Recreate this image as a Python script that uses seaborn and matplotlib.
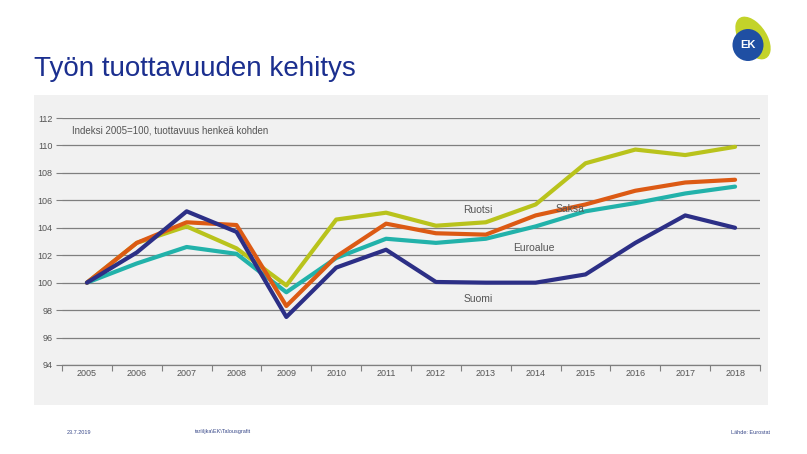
import matplotlib
matplotlib.use("Agg")
import matplotlib.pyplot as plt
import matplotlib.patches as mpatches
import pandas as pd
import seaborn as sns

# Data
years = list(range(2005, 2019))
suomi = [100, 102.2, 105.2, 103.7, 97.5, 101.1, 102.4, 100.05, 100.0, 100.0, 100.6, 102.9, 104.9, 104.0]
ruotsi = [100, 102.9, 104.1, 102.5, 99.8, 104.6, 105.1, 104.15, 104.4, 105.7, 108.7, 109.7, 109.3, 109.9]
saksa = [100, 102.9, 104.4, 104.2, 98.3, 101.9, 104.3, 103.6, 103.5, 104.9, 105.7, 106.7, 107.3, 107.5]
euroalue = [100, 101.4, 102.6, 102.1, 99.3, 101.8, 103.2, 102.9, 103.2, 104.1, 105.2, 105.8, 106.5, 107.0]

series = {"Ruotsi": ruotsi, "Euroalue": euroalue, "Saksa": saksa, "Suomi": suomi}
colors = {"Ruotsi": "#b9c31c", "Euroalue": "#22b2aa", "Saksa": "#dc5a14", "Suomi": "#2c2f86"}

df = pd.DataFrame([(y, name, v) for name, vals in series.items() for y, v in zip(years, vals)],
                  columns=["Vuosi", "Maa", "Indeksi"])

sns.set_style("white")
plt.rcParams["font.family"] = ["Liberation Sans", "DejaVu Sans"]

fig = plt.figure(figsize=(8.07, 4.54), dpi=100)
fig.patch.set_facecolor("white")

# gray panel behind chart
bg = fig.add_axes([34 / 807, 1 - 405 / 454, (768 - 34) / 807, (405 - 95) / 454], zorder=-5)
bg.set_facecolor("#f1f1f1")
bg.set_xticks([])
bg.set_yticks([])
for s in bg.spines.values():
    s.set_visible(False)

ax = fig.add_axes([62 / 807, 1 - 365 / 454, (760 - 62) / 807, (365 - 118) / 454], zorder=1)
ax.set_facecolor("none")

sns.lineplot(data=df, x="Vuosi", y="Indeksi", hue="Maa", palette=colors, linewidth=3.0,
             legend=False, ax=ax)

ax.set_xlim(2004.5, 2018.5)
ax.set_ylim(94, 112)
ax.set_yticks(range(94, 113, 2))
ax.set_xticks(years)
ax.set_xticks([y + 0.5 for y in range(2004, 2019)], minor=True)
ax.tick_params(axis="x", which="major", bottom=True, length=0, labelsize=6.5, labelcolor="#555555", pad=3)
ax.tick_params(axis="x", which="minor", bottom=True, length=4, width=0.8, color="#808080", direction="out")
ax.tick_params(axis="y", left=True, length=4, width=0.8, color="#808080", labelsize=6.5,
               labelcolor="#555555", pad=3)
ax.grid(axis="y", color="#7f7f7f", linewidth=0.9)
ax.set_axisbelow(True)
for s in ["top", "right", "left"]:
    ax.spines[s].set_visible(False)
ax.spines["bottom"].set_color("#7f7f7f")
ax.spines["bottom"].set_linewidth(0.9)
ax.set_xlabel("")
ax.set_ylabel("")

# annotations
ax.text(2005 - 0.3, 111.1, "Indeksi 2005=100, tuottavuus henkeä kohden", fontsize=7, color="#555555",
        va="center", ha="left")
ax.text(2012.55, 105.3, "Ruotsi", fontsize=7.5, color="#555555", ha="left", va="center")
ax.text(2014.4, 105.4, "Saksa", fontsize=7.5, color="#555555", ha="left", va="center")
ax.text(2013.55, 102.5, "Euroalue", fontsize=7.5, color="#555555", ha="left", va="center")
ax.text(2012.55, 98.8, "Suomi", fontsize=7.5, color="#555555", ha="left", va="center")

# title
fig.text(34 / 807, 1 - 69 / 454, "Työn tuottavuuden kehitys", fontsize=20, color="#1b2f8f",
         va="center", ha="left")

# logo
fig.patches.append(mpatches.Ellipse((753 / 807, 1 - 38 / 454), 30 / 807, 44 / 454, angle=15,
                                    transform=fig.transFigure, facecolor="#c3d32a", edgecolor="none"))
fig.patches.append(mpatches.Ellipse((748 / 807, 1 - 45 / 454), 31 / 807, 32 / 454,
                                    transform=fig.transFigure, facecolor="#1f4fa3", edgecolor="none"))
fig.text(748 / 807, 1 - 45 / 454, "EK", fontsize=8, color="white", weight="bold", ha="center", va="center")

# footer
fig.text(67 / 807, 1 - 432 / 454, "23.7.2019", fontsize=4, color="#3a4a8a", va="center")
fig.text(195 / 807, 1 - 432 / 454, "tari\\ljka\\EK\\Talousgrafit", fontsize=4, color="#3a4a8a", va="center")
fig.text(770 / 807, 1 - 432 / 454, "Lähde: Eurostat", fontsize=4, color="#3a4a8a", va="center", ha="right")

fig.savefig("out.png", dpi=100, facecolor="white")
